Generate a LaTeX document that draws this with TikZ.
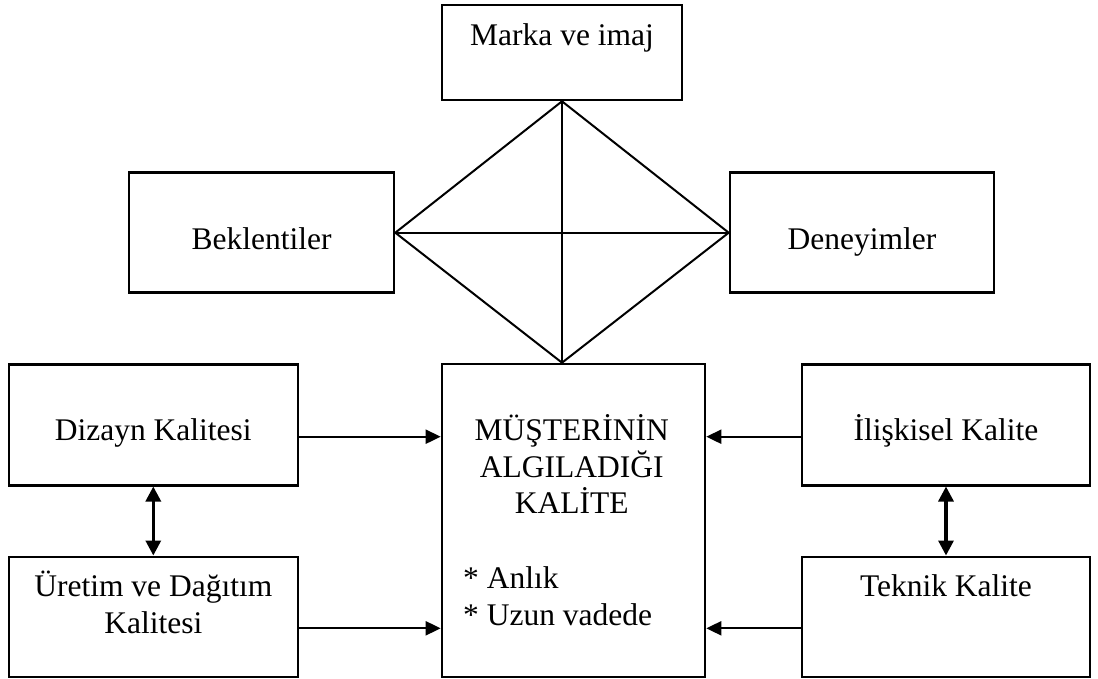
\documentclass[tikz,border=0pt]{standalone}
\usepackage{fontspec}
\setmainfont{Liberation Serif}
\usetikzlibrary{arrows.meta,calc}
\begin{document}
\begin{tikzpicture}[x=1pt,y=-1pt,
  box/.style={draw=black,line width=2.6pt,rectangle,inner sep=0pt},
  txt/.style={anchor=base,inner sep=0pt,font=\fontsize{31.5}{36.5}\selectfont},
  thinline/.style={line width=2pt},
  arr/.style={line width=2pt,-{Triangle[length=15pt,width=14pt]}},
  dbl/.style={line width=3.2pt,{Triangle[length=15pt,width=15pt]}-{Triangle[length=15pt,width=15pt]}}]
\useasboundingbox (0,0) rectangle (1098,678);
% boxes
\node[box,minimum width=240pt,minimum height=95pt] (marka) at (562,52.5) {};
\node[box,minimum width=265pt,minimum height=120pt] (bek) at (261.5,232.7) {};
\node[box,minimum width=264pt,minimum height=120pt] (den) at (862,232.7) {};
\node[box,minimum width=263pt,minimum height=313pt] (mus) at (573.5,520.5) {};
\node[box,minimum width=289pt,minimum height=121pt] (diz) at (153.3,424.7) {};
\node[box,minimum width=289pt,minimum height=120pt] (ure) at (153.3,616.8) {};
\node[box,minimum width=288pt,minimum height=121pt] (ili) at (946,424.7) {};
\node[box,minimum width=288pt,minimum height=120pt] (tek) at (946,616.8) {};
% texts
\node[txt] (tmarka) at (562,45) {Marka ve imaj};
\node[txt] (tbek) at (261.5,249) {Beklentiler};
\node[txt] (tden) at (862,249) {Deneyimler};
\node[txt] (tdiz) at (153.3,440.7) {Dizayn Kalitesi};
\node[txt] (ture1) at (153.3,596) {Üretim ve Dağıtım};
\node[txt] (ture2) at (153.3,633.3) {Kalitesi};
\node[txt] (tili) at (946,440.7) {İlişkisel Kalite};
\node[txt] (ttek) at (946,596) {Teknik Kalite};
\node[txt] (tm1) at (571.7,440) {MÜŞTERİNİN};
\node[txt] (tm2) at (571.7,477.3) {ALGILADIĞI};
\node[txt] (tm3) at (571.7,513.3) {KALİTE};
\node[txt,anchor=base west] (tm4) at (463,588.3) {* Anlık};
\node[txt,anchor=base west] (tm5) at (463,625) {* Uzun vadede};
% diamond
\coordinate (dt) at (marka.south);
\coordinate (dl) at (bek.east);
\coordinate (dr) at (den.west);
\coordinate (db) at (marka.south |- mus.north);
\draw[thinline] (dt) -- (dl) -- (db) -- (dr) -- cycle;
\draw[thinline] (dt) -- (db);
\draw[thinline] (dl) -- (dr);
% arrows
\coordinate (a1) at ($(diz.east)+(0,12)$);
\coordinate (a2) at ($(ure.east)+(0,11.5)$);
\coordinate (a3) at ($(ili.west)+(0,12)$);
\coordinate (a4) at ($(tek.west)+(0,11.5)$);
\draw[arr] (a1) -- (a1 -| mus.west);
\draw[arr] (a2) -- (a2 -| mus.west);
\draw[arr] (a3) -- (a3 -| mus.east);
\draw[arr] (a4) -- (a4 -| mus.east);
\draw[dbl] (diz.south) -- (ure.north);
\draw[dbl] (ili.south) -- (tek.north);
\end{tikzpicture}
\end{document}
